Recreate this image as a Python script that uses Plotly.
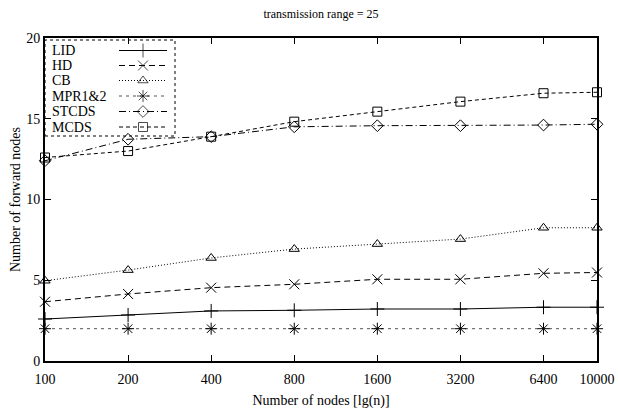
import plotly.graph_objects as go

# ---- data ----
nodes = [100, 200, 400, 800, 1600, 3200, 6400, 10000]
x_tick_labels = ["100", "200", "400", "800", "1600", "3200", "6400", "10000"]
y_ticks = [0, 5, 10, 15, 20]

series_names = ["LID", "HD", "CB", "MPR1&2", "STCDS", "MCDS"]
lid = [2.6, 2.85, 3.1, 3.14, 3.22, 3.22, 3.33, 3.33]
hd = [3.67, 4.15, 4.54, 4.75, 5.06, 5.06, 5.43, 5.48]
cb = [4.97, 5.63, 6.38, 6.93, 7.24, 7.55, 8.25, 8.25]
mpr = [2.0, 2.0, 2.0, 2.0, 2.0, 2.0, 2.0, 2.0]
stcds = [12.4, 13.73, 13.89, 14.5, 14.57, 14.57, 14.61, 14.66]
mcds = [12.6, 13.0, 13.89, 14.82, 15.44, 16.06, 16.58, 16.64]
series_values = [lid, hd, cb, mpr, stcds, mcds]

# ---- styles ----
dashes = ["solid", "6px,4px", "1px,2px", "3px,4px", "7px,3px,1px,3px", "4px,3px"]
symbols = ["cross-thin-open", "x-thin-open", "triangle-up-open", "asterisk-open",
           "diamond-open", "square-open"]
sizes = [10, 10, 9, 10, 9, 9]
colors = ["#000000", "#000000", "#000000", "#555555", "#000000", "#000000"]

FONT = "Liberation Serif"
W, H = 618, 414
L, R, T, B = 45, 21, 38, 53

fig = go.Figure()
for name, vals, d, s, sz, c in zip(series_names, series_values, dashes, symbols, sizes, colors):
    fig.add_trace(go.Scatter(
        x=nodes, y=vals, name=name, mode="lines+markers",
        line=dict(color=c, width=1, dash=d),
        marker=dict(symbol=s, size=sz, color="#000000", line=dict(width=1, color="#000000")),
        showlegend=False, cliponaxis=False))

# ---- manual legend (text left, sample right) on an overlay axis in [0,1] ----
pw, ph = W - L - R, H - T - B
def fx(px):
    return (px - L) / pw
def fy(py):
    return (H - B - py) / ph

leg_y = [50.5, 65.5, 80.5, 96, 111.5, 127]
for name, d, s, sz, c, py in zip(series_names, dashes, symbols, sizes, colors, leg_y):
    fig.add_trace(go.Scatter(
        x=[fx(119), fx(143), fx(167)], y=[fy(py)] * 3, xaxis="x2", yaxis="y2",
        mode="lines+markers", line=dict(color=c, width=1, dash=d),
        marker=dict(symbol=s, size=[0, sz, 0], color="#000000", line=dict(width=1, color="#000000")),
        showlegend=False, hoverinfo="skip", cliponaxis=False))
    fig.add_annotation(x=fx(50), y=fy(py), xref="x2", yref="y2", text=name,
                       showarrow=False, xanchor="left", yanchor="middle",
                       font=dict(family=FONT, size=14, color="#000000"))

fig.add_shape(type="rect", xref="x2", yref="y2",
              x0=fx(45), x1=fx(175), y0=fy(136), y1=fy(40),
              line=dict(color="#000000", width=1, dash="3px,3px"))

fig.update_layout(
    width=W, height=H,
    margin=dict(l=L, r=R, t=T, b=B),
    paper_bgcolor="white", plot_bgcolor="white",
    font=dict(family=FONT, size=12, color="#000000"),
    title=dict(text="transmission range = 25", x=(L + 276) / W, xanchor="center",
               y=1 - 14 / H, yanchor="middle", font=dict(family=FONT, size=12)),
    xaxis=dict(type="log", range=[2, 4], tickvals=nodes, ticktext=x_tick_labels,
               ticks="inside", ticklen=6, tickcolor="#000000", tickwidth=1,
               showline=True, linecolor="#000000", linewidth=2, mirror="ticks",
               showgrid=False, zeroline=False, ticklabelstandoff=4, automargin=False,
               title=dict(text="Number of nodes [lg(n)]", standoff=9,
                          font=dict(family=FONT, size=14)),
               tickfont=dict(family=FONT, size=14)),
    yaxis=dict(range=[0, 20], tickvals=y_ticks, automargin=False,
               ticks="inside", ticklen=6, tickcolor="#000000", tickwidth=1,
               showline=True, linecolor="#000000", linewidth=2, mirror="ticks",
               showgrid=False, zeroline=False,
               title=dict(text="Number of forward nodes", standoff=2,
                          font=dict(family=FONT, size=14)),
               tickfont=dict(family=FONT, size=14)),
    xaxis2=dict(overlaying="x", range=[0, 1], visible=False, showgrid=False),
    yaxis2=dict(overlaying="y", range=[0, 1], visible=False, showgrid=False),
)

fig.write_html("out.html", config={"displayModeBar": False},
               post_script="document.body.style.margin='0px';document.body.style.overflow='hidden';")
